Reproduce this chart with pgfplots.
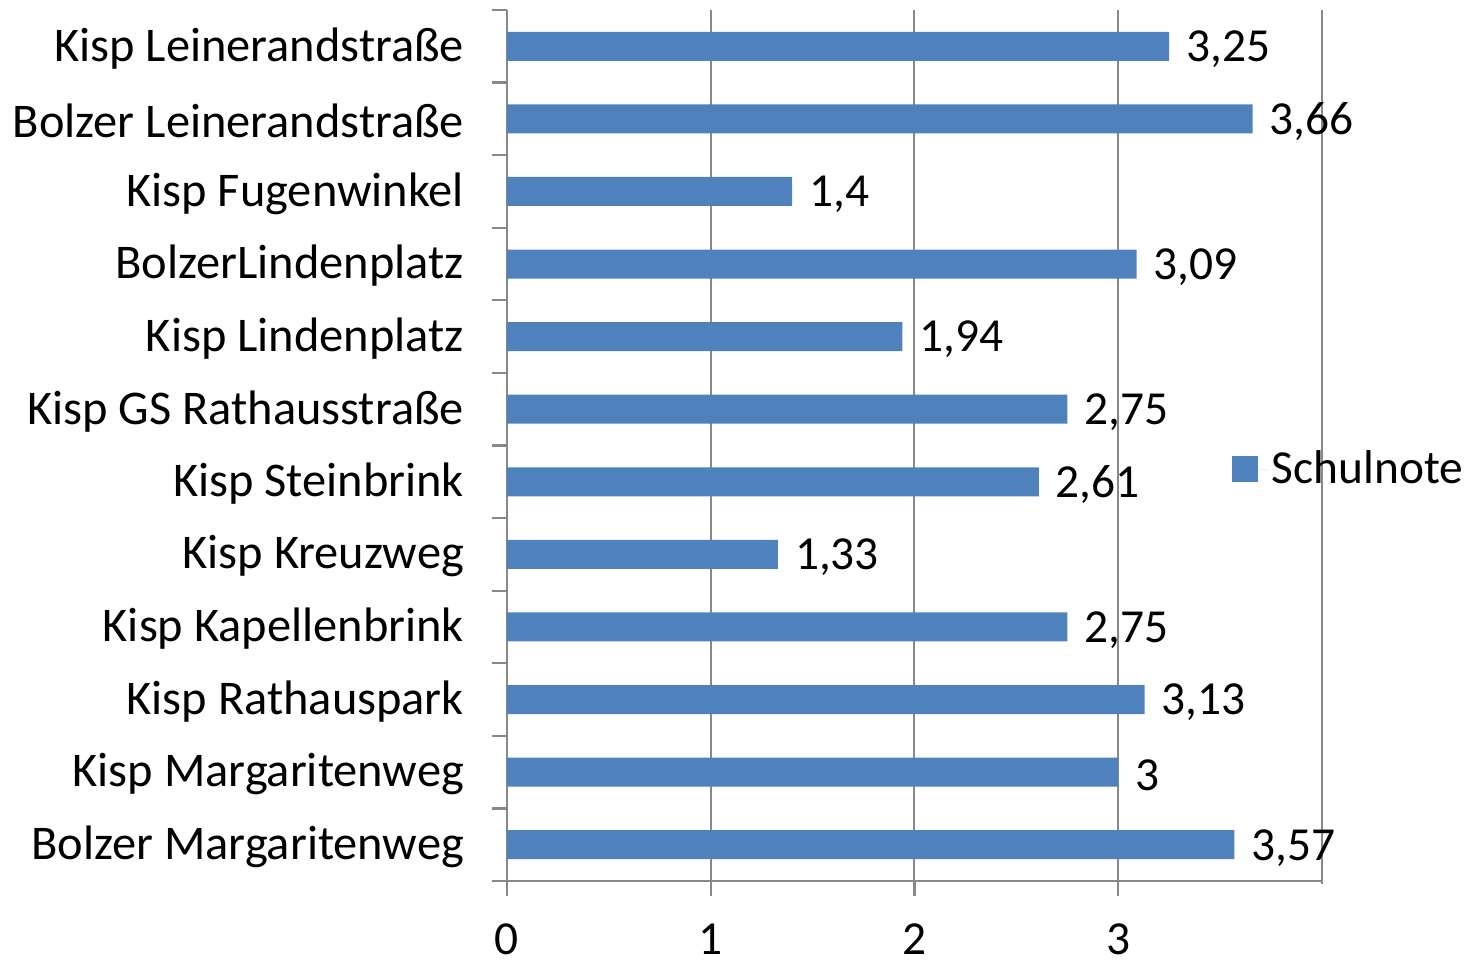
\documentclass[border=0pt]{standalone}
\usepackage{pgfplots}
\pgfplotsset{compat=1.18}
\usepackage{fontspec}
\setmainfont{Carlito}
\definecolor{barblue}{HTML}{4F81BD}
\definecolor{gridgray}{HTML}{888888}
\begin{document}
\begin{tikzpicture}
\begin{axis}[
    scale only axis, width=407.5bp, height=435.5bp,
    xbar, bar width=0.40, bar shift=0pt,
    xmin=0, xmax=4, ymin=-0.5, ymax=11.5, y dir=reverse,
    axis x line*=bottom, axis y line*=left,
    axis line style={-, draw=gridgray, line width=1.3bp},
    xtick={0,1,2,3}, xmajorgrids,
    grid style={draw=gridgray, line width=1bp},
    extra x ticks={4}, extra x tick labels={},
    extra x tick style={grid=major, /pgfplots/major tick length=1.5bp},
    tick align=outside, major tick length=7.5bp,
    tick style={draw=gridgray, line width=1.1bp},
    xticklabel style={font=\fontsize{23.7bp}{28bp}\selectfont, yshift=-10.5bp},
    /pgf/number format/assume math mode=true,
    ytick={-0.5,0.5,...,11.5}, yticklabels={},
    extra y ticks={0,...,11},
    extra y tick labels={Kisp Leinerandstraße, Bolzer Leinerandstraße, Kisp Fugenwinkel,
        BolzerLindenplatz, Kisp Lindenplatz, Kisp GS Rathausstraße, Kisp Steinbrink,
        Kisp Kreuzweg, Kisp Kapellenbrink, Kisp Rathauspark, Kisp Margaritenweg,
        Bolzer Margaritenweg},
    extra y tick style={/pgfplots/major tick length=0pt},
    yticklabel style={font=\fontsize{24.2bp}{28bp}\selectfont, xshift=-18bp, yshift=-1bp},
    point meta=x,
    nodes near coords,
    nodes near coords style={anchor=west, xshift=5bp, yshift=-1.5bp,
        font=\fontsize{23.7bp}{28bp}\selectfont,
        /pgf/number format/use comma},
    legend style={at={(0.8815,0.473)}, anchor=west, draw=none, fill=none,
        font=\fontsize{23.7bp}{28bp}\selectfont},
    legend image code/.code={\fill[barblue] (0bp,-6.5bp) rectangle (13bp,6.5bp);
        \path (13bp,0bp) -- (18bp,0bp);},
]
\addplot[fill=barblue, draw=none] coordinates {
    (3.25,0) (3.66,1) (1.4,2) (3.09,3) (1.94,4) (2.75,5)
    (2.61,6) (1.33,7) (2.75,8) (3.13,9) (3,10) (3.57,11)};
\addlegendentry{Schulnote}
\end{axis}
\pgfresetboundingbox
\path[use as bounding box] (-253.5bp,-40.5bp) rectangle (481.5bp,440.5bp);
\end{tikzpicture}
\end{document}
